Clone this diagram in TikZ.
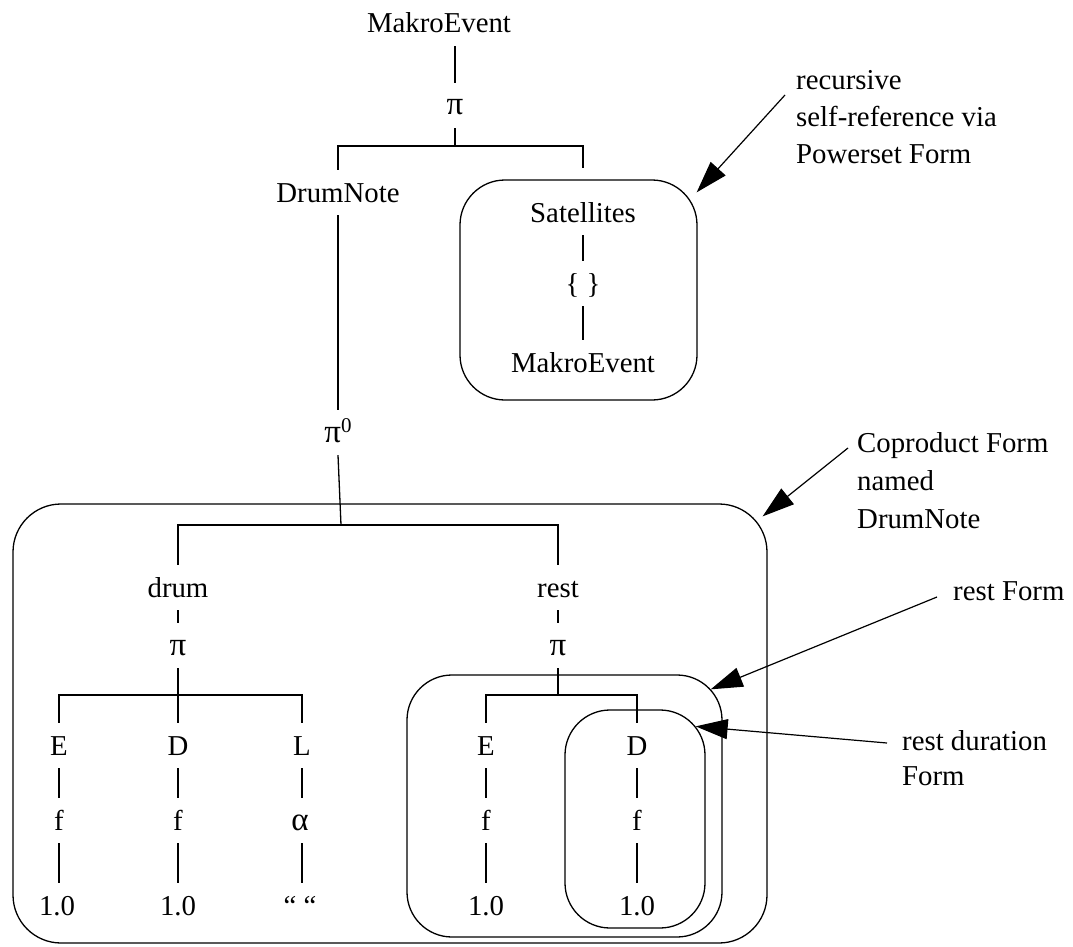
\documentclass[tikz,border=0pt]{standalone}
\usepackage{fontspec}
\setmainfont{Liberation Serif}
\usetikzlibrary{arrows.meta}
\newcommand{\gk}[1]{{\fontsize{33}{34}\selectfont #1}}
\begin{document}
\begin{tikzpicture}[x=1pt,y=-1pt,
  lbl/.style={font=\fontsize{28.8}{34}\selectfont, anchor=base,
    text height=22pt, text depth=3pt, inner xsep=1pt, inner ysep=10pt},
  ann/.style={font=\fontsize{28.8}{34}\selectfont, anchor=base west, inner sep=0pt},
  frame/.style={draw, line width=1.3pt, inner sep=0pt},
  conn/.style={line width=1.3pt},
  pointer/.style={line width=1.2pt, -{Triangle[length=32pt,width=20pt]}}]
\useasboundingbox (0,0) rectangle (1073,947);

% outlines of the forms
\node[frame, rounded corners=45pt, minimum width=237pt, minimum height=220pt] (satbox) at (578.5,290) {};
\node[frame, rounded corners=48pt, minimum width=754pt, minimum height=439pt] (cpbox) at (390,723.5) {};
\node[frame, rounded corners=45pt, minimum width=315pt, minimum height=262pt] (restbox) at (564.5,806) {};
\node[frame, rounded corners=45pt, minimum width=140pt, minimum height=218pt] (durbox) at (635,819) {};

% top level
\node[lbl] (me1) at (439,33) {MakroEvent};
\node[lbl] (pi1) at (455,115) {\gk{π}};
\node[lbl] (dn) at (338,202) {DrumNote};
\node[lbl] (sat) at (583,222) {Satellites};
\node[lbl] (br) at (583,293) {\{ \}};
\node[lbl] (me2) at (583,372) {MakroEvent};
\node[lbl] (pi0) at (338,442) {\gk{π}\raisebox{10pt}{\fontsize{21}{21}\selectfont 0}};

% coproduct branches
\node[lbl] (drum) at (178,597) {drum};
\node[lbl] (pd) at (178,655) {\gk{π}};
\node[lbl] (rest) at (558,597) {rest};
\node[lbl] (pr) at (558,655) {\gk{π}};

% drum factors
\node[lbl] (E1) at (59,755) {E};
\node[lbl] (D1) at (178,755) {D};
\node[lbl] (L1) at (302,755) {L};
\node[lbl] (f1) at (59,830) {f};
\node[lbl] (f2) at (178,830) {f};
\node[lbl] (al) at (300,830) {\gk{α}};
\node[lbl] (v1) at (57,915) {1.0};
\node[lbl] (v2) at (178,915) {1.0};
\node[lbl] (q) at (300,915) {“ “};

% rest factors
\node[lbl] (E2) at (486,755) {E};
\node[lbl] (D2) at (637,755) {D};
\node[lbl] (f3) at (486,830) {f};
\node[lbl] (f4) at (637,830) {f};
\node[lbl] (v3) at (486,915) {1.0};
\node[lbl] (v4) at (637,915) {1.0};

% junction points of the bars
\coordinate (b1) at (455,146);
\coordinate (j2) at (341,525);
\coordinate (b3) at (178,695);
\coordinate (b4) at (558,695);

% tree connectors
\draw[conn] (me1.south -| pi1.north) -- (pi1.north);
\draw[conn] (pi1.south) -- (b1);
\draw[conn] (dn.north) |- (b1) -| ([yshift=22pt]sat.north);
\draw[conn] (sat.south) -- (br.north);
\draw[conn] (br.south) -- (me2.north);
\draw[conn] (dn.south) -- (dn.south |- pi0.north);
\draw[conn] (pi0.south -| dn.south) -- (j2);
\draw[conn] (drum.north) |- (j2) -| (rest.north);

\draw[conn] (drum.south) -- (pd.north);
\draw[conn] (pd.south) -- (D1.north);
\draw[conn] (E1.north) |- (b3) -| (L1.north);
\draw[conn] (E1.south) -- (f1.north);
\draw[conn] (D1.south) -- (f2.north);
\draw[conn] (L1.south) -- (L1.south |- al.north);
\draw[conn] (f1.south) -- (f1.south |- v1.north);
\draw[conn] (f2.south) -- (v2.north);
\draw[conn] (L1.south |- al.south) -- (L1.south |- q.north);

\draw[conn] (rest.south) -- (pr.north);
\draw[conn] (pr.south) -- (b4);
\draw[conn] (E2.north) |- (b4) -| (D2.north);
\draw[conn] (E2.south) -- (f3.north);
\draw[conn] (D2.south) -- (f4.north);
\draw[conn] (f3.south) -- (v3.north);
\draw[conn] (f4.south) -- (v4.north);

% annotations
\node[ann] (a1) at (796,90) {recursive};
\node[ann] (a2) at (796,127) {self-reference via};
\node[ann] (a3) at (796,163) {Powerset Form};
\node[ann] (c1) at (857,452) {Coproduct Form};
\node[ann] (c2) at (857,490) {named};
\node[ann] (c3) at (857,528) {DrumNote};
\node[ann] (r1) at (953,600) {rest Form};
\node[ann] (d1) at (902,750) {rest duration};
\node[ann] (d2) at (902,785) {Form};

\draw[pointer] ([xshift=-11pt,yshift=-5pt]a1.base west) -- ([xshift=-1pt,yshift=-13pt]satbox.north east);
\draw[pointer] ([xshift=-9pt,yshift=4pt]c1.base west) -- ([xshift=-5pt,yshift=-13pt]cpbox.north east);
\draw[pointer] ([xshift=-16pt,yshift=3pt]r1.base west) -- ([xshift=-12pt,yshift=-15pt]restbox.north east);
\draw[pointer] ([xshift=-15pt,yshift=7pt]d1.base west) -- ([xshift=-10pt,yshift=-17pt]durbox.north east);
\end{tikzpicture}
\end{document}
